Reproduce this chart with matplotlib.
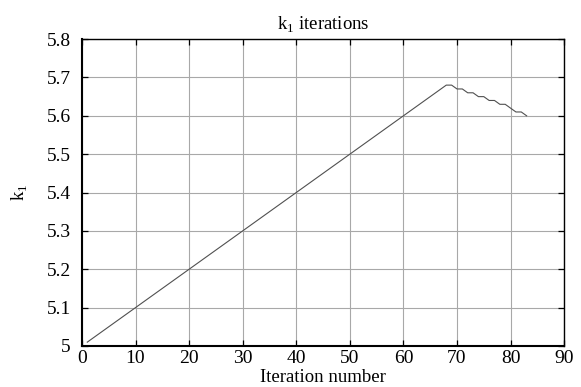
import matplotlib
matplotlib.use("Agg")
import matplotlib.pyplot as plt

iterations = list(range(1, 84))
k1_values = [
    5.01, 5.02, 5.03, 5.04, 5.05, 5.06, 5.07, 5.08, 5.09, 5.10,
    5.11, 5.12, 5.13, 5.14, 5.15, 5.16, 5.17, 5.18, 5.19, 5.20,
    5.21, 5.22, 5.23, 5.24, 5.25, 5.26, 5.27, 5.28, 5.29, 5.30,
    5.31, 5.32, 5.33, 5.34, 5.35, 5.36, 5.37, 5.38, 5.39, 5.40,
    5.41, 5.42, 5.43, 5.44, 5.45, 5.46, 5.47, 5.48, 5.49, 5.50,
    5.51, 5.52, 5.53, 5.54, 5.55, 5.56, 5.57, 5.58, 5.59, 5.60,
    5.61, 5.62, 5.63, 5.64, 5.65, 5.66, 5.67, 5.68,
    5.68, 5.67, 5.67, 5.66, 5.66, 5.65, 5.65, 5.64, 5.64, 5.63,
    5.63, 5.62, 5.61, 5.61, 5.60,
]
x_ticks = [0, 10, 20, 30, 40, 50, 60, 70, 80, 90]
y_ticks = [5.0, 5.1, 5.2, 5.3, 5.4, 5.5, 5.6, 5.7, 5.8]
y_tick_labels = ["5", "5.1", "5.2", "5.3", "5.4", "5.5", "5.6", "5.7", "5.8"]

plt.rcParams['font.family'] = ['Liberation Serif', 'DejaVu Serif']
plt.rcParams['mathtext.fontset'] = 'custom'
plt.rcParams['mathtext.rm'] = 'Liberation Serif'

fig = plt.figure(figsize=(5.81, 3.87), dpi=100)
ax = fig.add_axes([0.141, 0.106, 0.830, 0.793])

ax.plot(iterations, k1_values, color='#505050', linewidth=0.8)
ax.set_xlim(0, 90)
ax.set_ylim(5.0, 5.8)
ax.set_xticks(x_ticks)
ax.set_yticks(y_ticks)
ax.set_yticklabels(y_tick_labels)
ax.grid(True, color='#a8a8a8', linewidth=0.8)
ax.set_axisbelow(True)
for name, s in ax.spines.items():
    s.set_color('black')
    s.set_linewidth(1.5 if name in ('left', 'bottom') else 1.0)
ax.tick_params(direction='in', length=4, width=0.9, labelsize=14, pad=3,
               colors='black', top=True, right=True)
ax.tick_params(axis='y', pad=8)

ax.set_title(r"k$_{1}$ iterations", fontsize=13.5, pad=7)
ax.set_xlabel("Iteration number", fontsize=13.5, labelpad=1)
ax.set_ylabel(r"k$_{1}$", fontsize=13.5, labelpad=12)

fig.savefig("out.png", dpi=100)
